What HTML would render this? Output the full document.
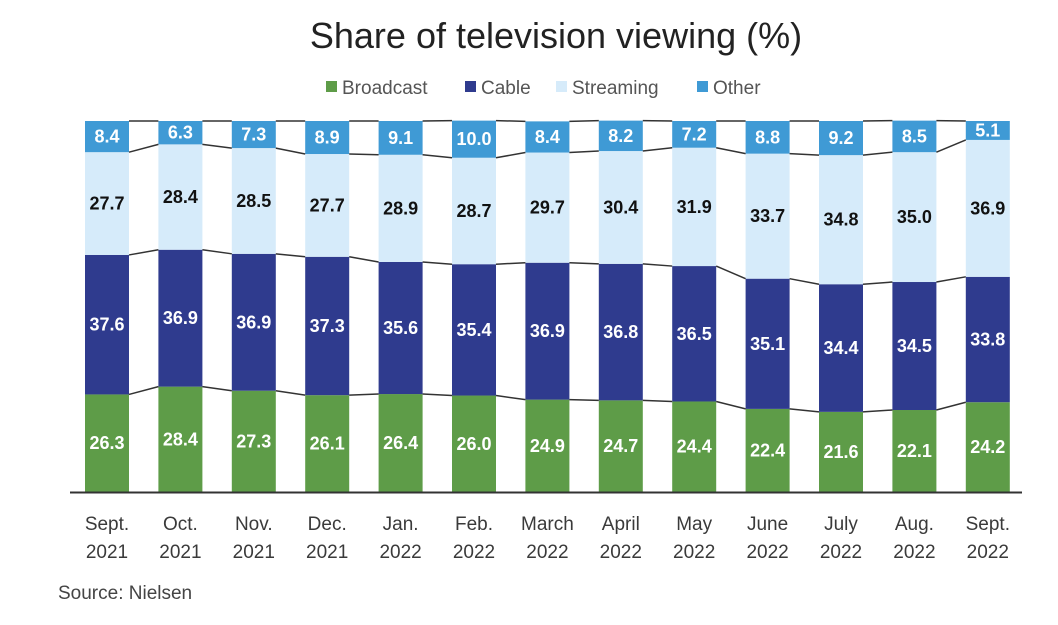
<!DOCTYPE html>
<html><head><meta charset="utf-8"><style>
body{margin:0;background:#fff;width:1058px;height:620px;overflow:hidden;font-family:"Liberation Sans",sans-serif}
</style></head><body>
<svg width="1058" height="620">
<text x="556" y="48" text-anchor="middle" font-size="36" fill="#222">Share of television viewing (%)</text>
<g id="legend"></g>
<g id="plot"></g>
<text x="58" y="599" font-size="19" fill="#444">Source: Nielsen</text>
</svg>
<script>
const categories=[["Sept.","2021"],["Oct.","2021"],["Nov.","2021"],["Dec.","2021"],["Jan.","2022"],["Feb.","2022"],["March","2022"],["April","2022"],["May","2022"],["June","2022"],["July","2022"],["Aug.","2022"],["Sept.","2022"]];
const broadcast=[26.3,28.4,27.3,26.1,26.4,26.0,24.9,24.7,24.4,22.4,21.6,22.1,24.2];
const cable=[37.6,36.9,36.9,37.3,35.6,35.4,36.9,36.8,36.5,35.1,34.4,34.5,33.8];
const streaming=[27.7,28.4,28.5,27.7,28.9,28.7,29.7,30.4,31.9,33.7,34.8,35.0,36.9];
const other=[8.4,6.3,7.3,8.9,9.1,10.0,8.4,8.2,7.2,8.8,9.2,8.5,5.1];
const seriesNames=["Broadcast","Cable","Streaming","Other"];
const NS="http://www.w3.org/2000/svg";
const colors=["#5e9c48","#2f3b8e","#d6ebfa","#3f9ad5"];
const textColors=["#fff","#fff","#111","#fff"];
const series=[broadcast,cable,streaming,other];
const plot=document.getElementById('plot');
const base=492,top0=121,x0=85,step=73.4,bw=44;
const y=v=>base-(v/100)*(base-top0);
const xs=i=>x0+i*step;
function mk(tag,attrs,parent){const e=document.createElementNS(NS,tag);for(const k in attrs)e.setAttribute(k,attrs[k]);parent.appendChild(e);return e;}
const tops=[];
categories.forEach((c,i)=>{
  let cum=0;tops[i]=[];
  series.forEach((s,k)=>{
    const v=s[i];const y1=y(cum),y2=y(cum+v);
    const r=mk('rect',{x:xs(i),y:y2,width:bw,height:y1-y2,fill:colors[k]},plot);
    
    
    const t=mk('text',{x:xs(i)+bw/2,y:(y1+y2)/2+6,'text-anchor':'middle','font-size':18,'font-weight':'bold',fill:textColors[k]},plot);
    t.textContent=v.toFixed(1);
    
    
    cum+=v;tops[i][k]=y2;
  });
  const l1=mk('text',{x:xs(i)+bw/2,y:530,'text-anchor':'middle','font-size':19,fill:'#3a3a3a'},plot);l1.textContent=c[0];
  
  
  const l2=mk('text',{x:xs(i)+bw/2,y:558,'text-anchor':'middle','font-size':19,fill:'#3a3a3a'},plot);l2.textContent=c[1];
  
  
});
for(let i=0;i<categories.length-1;i++){
  for(let k=0;k<4;k++){
    const ln=mk('line',{x1:xs(i)+bw,y1:tops[i][k],x2:xs(i+1),y2:tops[i+1][k],stroke:'#333','stroke-width':1.5},plot);
    
    
  }
}
const ax=mk('line',{x1:70,y1:base+0.5,x2:1022,y2:base+0.5,stroke:'#333','stroke-width':2},plot);


const leg=document.getElementById('legend');
const legX=[326,465,556,697];
seriesNames.forEach((n,k)=>{
  const g=mk('g',{},leg);
  
  
  mk('rect',{x:legX[k],y:81,width:11,height:11,fill:colors[k]},g);
  const t=mk('text',{x:legX[k]+16,y:94,'font-size':19,fill:'#555'},g);t.textContent=n;
});
</script>
</body></html>
